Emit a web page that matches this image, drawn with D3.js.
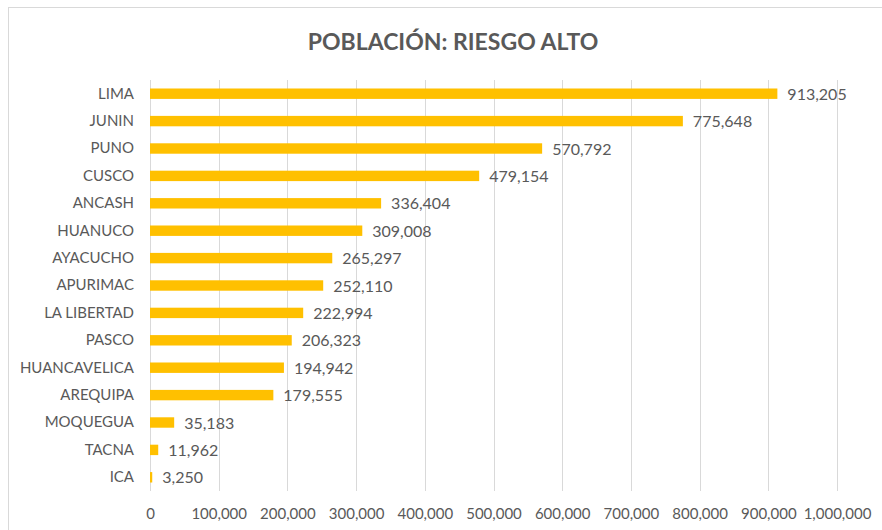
<!DOCTYPE html>
<html>
<head>
<meta charset="utf-8">
<script src="https://cdn.jsdelivr.net/npm/d3@7"></script>
<style>
    body { margin: 0; background: #fff; }
    text { font-family: Lato, "Open Sans", sans-serif; fill: #595959; }
</style>
</head>
<body>
<div id="main"></div>
<script>
const ctx = {
    w: 882,
    h: 530,
    BAR_COLOR: "#FFC000",
    GRID_COLOR: "#D9D9D9",
    left: 150,
    right: 837,
    top: 80,
    bottom: 491,
};

// regions, top to bottom
const REGIONS = ["LIMA", "JUNIN", "PUNO", "CUSCO", "ANCASH", "HUANUCO", "AYACUCHO", "APURIMAC",
    "LA LIBERTAD", "PASCO", "HUANCAVELICA", "AREQUIPA", "MOQUEGUA", "TACNA", "ICA"];
// population at high risk
const POPULATION = [913205, 775648, 570792, 479154, 336404, 309008, 265297, 252110,
    222994, 206323, 194942, 179555, 35183, 11962, 3250];
const X_TICKS = [0, 100000, 200000, 300000, 400000, 500000, 600000, 700000, 800000, 900000, 1000000];
const TITLE = "POBLACIÓN: RIESGO ALTO";

function createViz() {
    let svgEl = d3.select("#main").append("svg")
        .attr("width", ctx.w)
        .attr("height", ctx.h);
    svgEl.append("rect")
        .attr("width", ctx.w).attr("height", ctx.h)
        .attr("fill", "white");
    // chart frame (right and bottom edges fall outside the picture)
    svgEl.append("rect")
        .attr("x", 8.5).attr("y", 7.5)
        .attr("width", ctx.w).attr("height", ctx.h)
        .attr("fill", "none")
        .attr("stroke", ctx.GRID_COLOR);

    let data = REGIONS.map((r, i) => ({ name: r, value: POPULATION[i] }));

    let x = d3.scaleLinear()
        .domain([0, 1000000])
        .range([ctx.left, ctx.right]);
    let y = d3.scaleBand()
        .domain(REGIONS)
        .range([ctx.top, ctx.bottom])
        .paddingInner(0.62)
        .paddingOuter(0.31);

    // vertical gridlines
    svgEl.append("g")
        .selectAll("line")
        .data(X_TICKS)
        .enter()
        .append("line")
        .attr("x1", (d) => Math.round(x(d)) + 0.5)
        .attr("x2", (d) => Math.round(x(d)) + 0.5)
        .attr("y1", ctx.top)
        .attr("y2", ctx.bottom)
        .attr("stroke", ctx.GRID_COLOR);

    // x axis labels
    let xAxis = svgEl.append("g")
        .attr("transform", `translate(0,${ctx.bottom})`)
        .call(d3.axisBottom(x).tickValues(X_TICKS).tickFormat(d3.format(",")).tickSize(0).tickPadding(17));
    xAxis.select(".domain").remove();
    xAxis.selectAll("text")
        .style("font-size", "15px")
        .attr("fill", "#595959");

    // category labels
    let yAxis = svgEl.append("g")
        .attr("transform", `translate(${ctx.left},0)`)
        .call(d3.axisLeft(y).tickSize(0).tickPadding(16));
    yAxis.select(".domain").remove();
    yAxis.selectAll("text")
        .style("font-size", "15px")
        .attr("fill", "#595959");

    // bars
    svgEl.append("g")
        .selectAll("rect")
        .data(data)
        .enter()
        .append("rect")
        .attr("x", x(0))
        .attr("y", (d) => y(d.name))
        .attr("width", (d) => x(d.value) - x(0))
        .attr("height", y.bandwidth())
        .attr("fill", ctx.BAR_COLOR);

    // value labels
    svgEl.append("g")
        .selectAll("text")
        .data(data)
        .enter()
        .append("text")
        .attr("x", (d) => x(d.value) + 10)
        .attr("y", (d) => y(d.name) + y.bandwidth() / 2)
        .attr("dy", "0.38em")
        .style("font-size", "16px")
        .text((d) => d3.format(",")(d.value));

    // title
    svgEl.append("text")
        .attr("x", 453)
        .attr("y", 50)
        .attr("text-anchor", "middle")
        .style("font-size", "23px")
        .style("font-weight", "bold")
        .text(TITLE);
};

createViz();
</script>
</body>
</html>
